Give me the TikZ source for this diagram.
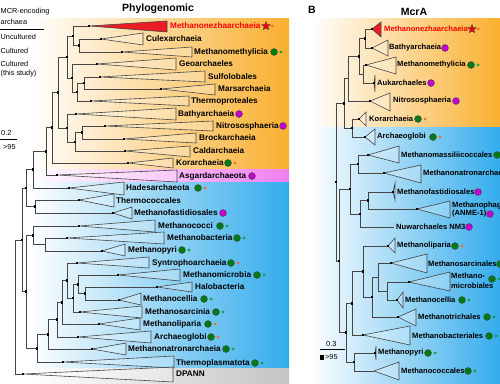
\documentclass[tikz,border=0pt]{standalone}
\usepackage{fontspec}
\setmainfont{Liberation Sans}
\usepackage{tikz}
\usetikzlibrary{shapes.geometric}
\usetikzlibrary{positioning}
\definecolor{bgorange}{RGB}{250,176,48}
\definecolor{bgblue}{RGB}{52,172,236}
\definecolor{bgpink}{RGB}{240,128,240}
\definecolor{bggray}{RGB}{196,196,196}
\definecolor{linegray}{RGB}{70,70,70}
\definecolor{cladered}{RGB}{236,28,36}
\definecolor{cgreen}{RGB}{0,122,20}
\definecolor{cmagenta}{RGB}{196,0,210}
\definecolor{agreen}{RGB}{20,160,60}
\definecolor{aorange}{RGB}{240,110,40}
\tikzstyle{br} = [draw=linegray, line width=0.6pt]
\tikzstyle{wedge} = [draw=linegray, line width=0.6pt, fill=white, fill opacity=0.25]
\tikzstyle{clade} = [anchor=west, inner sep=0pt, font=\fontsize{8.2}{9}\selectfont\bfseries]
\tikzstyle{cladeb} = [anchor=west, inner sep=0pt, font=\fontsize{7.6}{9}\selectfont\bfseries]
\tikzstyle{plain} = [anchor=west, inner sep=0pt, font=\fontsize{7.3}{9}\selectfont]
\tikzstyle{title} = [inner sep=0pt, font=\fontsize{10.5}{12}\selectfont\bfseries]
\tikzstyle{cult} = [circle, fill=cgreen, draw=black!70, line width=0.4pt, minimum size=7pt, inner sep=0pt]
\tikzstyle{uncult} = [circle, fill=cmagenta, draw=black!70, line width=0.4pt, minimum size=7pt, inner sep=0pt]
\tikzstyle{newstar} = [star, star points=5, star point ratio=2.3, fill=red, draw=black!75, line width=0.4pt, minimum size=9pt, inner sep=0pt]
\tikzstyle{tinyg} = [star, star points=5, star point ratio=2.2, fill=agreen, minimum size=3.6pt, inner sep=0pt]
\tikzstyle{tinyo} = [star, star points=5, star point ratio=2.2, fill=aorange, minimum size=3.6pt, inner sep=0pt]

\begin{document}
\begin{tikzpicture}[x=1pt, y=-1pt]
\useasboundingbox (0,0) rectangle (500,383);
\clip (0,0) rectangle (500,383);

\shade[left color=white, right color=bgorange] (30,18) rectangle (289,169);
\shade[left color=white, right color=bgpink] (30,169) rectangle (289,182);
\shade[left color=white, right color=bgblue] (30,182) rectangle (289,368);
\shade[left color=white, right color=bggray] (30,368) rectangle (289,383);
\shade[left color=white, right color=bgorange] (310,18) rectangle (500,127);
\shade[left color=white, right color=bgblue] (310,127) rectangle (500,383);

\node[title] (titleA) at (158,9) {Phylogenomic};
\node[title] (titleB) at (414,12) {McrA};
\node[title] (panelB) at (312,10) {B};

\node[plain] (lg1) at (0.5,12) {MCR-encoding};
\node[plain] (lg2) at (0.5,22) {archaea};
\draw[line width=0.5pt] (0,29) -- (44,29);
\node[plain] (lg3) at (0.5,37) {Uncultured};
\node[plain] (lg4) at (0.5,51) {Cultured};
\node[plain] (lg5) at (0.5,64) {Cultured};
\node[plain] (lg6) at (0.5,74) {(this study)};
\node[plain] (sc1) at (1,133) {0.2};
\draw[line width=0.5pt] (0,139) -- (17,139);
\node[plain] (sc2) at (3,147) {>95};
\node[plain] (sc3) at (326,344) {0.3};
\draw[line width=0.5pt] (320,349) -- (345,349);
\fill (319.5,354.5) rectangle (324,359.5);
\node[plain] (sc4) at (325,357) {>95};

% phylogenomic tree
\coordinate (a1) at (89,26);
\coordinate (a2) at (101,39);
\coordinate (a3) at (122,52);
\coordinate (n2) at (79,45.5);
\coordinate (n1) at (73,35.8);
\coordinate (a4) at (97,64);
\coordinate (a5) at (100,77);
\coordinate (a6) at (161,89);
\coordinate (a7) at (91,101);
\coordinate (n6) at (84,83);
\coordinate (n7) at (77,92);
\coordinate (n5) at (72,78);
\coordinate (n3) at (67,56.9);
\coordinate (a8) at (76,114);
\coordinate (a9) at (105,126);
\coordinate (a10) at (124,139);
\coordinate (a11) at (125,151);
\coordinate (n10) at (82,132.5);
\coordinate (n11) at (75,141.8);
\coordinate (n9) at (67,127.9);
\coordinate (p1) at (58,92.4);
\coordinate (a12) at (128,163);
\coordinate (n12) at (52,127.7);
\coordinate (a13) at (57,175);
\coordinate (n13) at (46,151.4);
\coordinate (a14) at (69,188);
\coordinate (n14) at (33,169.7);
\coordinate (a15) at (79,200);
\coordinate (a16) at (113,213);
\coordinate (n15) at (35,206.5);
\coordinate (n16) at (26,188.1);
\coordinate (a17) at (79,226);
\coordinate (a18) at (67,238);
\coordinate (a19) at (102,251);
\coordinate (n19) at (45,244.5);
\coordinate (n17) at (33,235.3);
\coordinate (a20) at (77,263);
\coordinate (a21) at (118,275);
\coordinate (a22) at (157,287);
\coordinate (a23) at (119,300);
\coordinate (a24) at (80,312);
\coordinate (a25) at (99,324);
\coordinate (a26) at (78,337);
\coordinate (a27) at (92,349);
\coordinate (a28) at (63,362);
\coordinate (n22) at (85,293.5);
\coordinate (n21) at (78,284.3);
\coordinate (n24) at (73,298.1);
\coordinate (n20) at (67,280.6);
\coordinate (n25) at (62,302.3);
\coordinate (n26) at (57,319.6);
\coordinate (n27) at (48,334.3);
\coordinate (n28) at (37,348.2);
\coordinate (n30) at (26,291.7);
\coordinate (n31) at (22,239.9);
\coordinate (a29) at (23,374);
\coordinate (rootA) at (15,307);

% mcrA tree
\coordinate (b1) at (372,29);
\coordinate (b2) at (372,48);
\coordinate (m1) at (365,38.5);
\coordinate (b3) at (366,65);
\coordinate (b4) at (374,83);
\coordinate (m2) at (363,74);
\coordinate (m3) at (359,56.3);
\coordinate (b5) at (370,101);
\coordinate (m4) at (348,78.6);
\coordinate (b6) at (359,119);
\coordinate (b7) at (365,137);
\coordinate (m5) at (352,128);
\coordinate (m6) at (344,103.3);
\coordinate (b8) at (368,155);
\coordinate (b9) at (384,173);
\coordinate (m7) at (358,164);
\coordinate (b10) at (393,192);
\coordinate (b11) at (417,209);
\coordinate (m8) at (368,200.5);
\coordinate (b12) at (394,227);
\coordinate (m9) at (360,213.8);
\coordinate (m10) at (350,188.9);
\coordinate (b13) at (388,246);
\coordinate (b14) at (391,263);
\coordinate (b15) at (409,282);
\coordinate (b16) at (397,300);
\coordinate (m11) at (387,291);
\coordinate (m12) at (378,277);
\coordinate (b17) at (398,317);
\coordinate (m13) at (372,297);
\coordinate (m14) at (363,271.5);
\coordinate (b18) at (363,335);
\coordinate (m15) at (352,303.3);
\coordinate (b19) at (375,353);
\coordinate (b20) at (374,371);
\coordinate (m16) at (354,362);
\coordinate (m17) at (346,332.6);
\coordinate (m18) at (339,260.8);
\coordinate (rootB) at (336,182);

\draw[wedge, fill=cladered, fill opacity=1] (a1) -- (167,21) -- (167,32) -- cycle;
\draw[wedge, fill=cladered, fill opacity=1] (b1) -- (381,22) -- (381,37) -- cycle;
\foreach \a/\xr/\ya/\yb in {a2/143/33/45, a3/192/47/57, a4/176/58/70, a5/205/71/82,
  a6/215/84/95, a7/189/96/106, a8/176/108/120, a9/213/121/131, a10/196/133/143,
  a11/190/146/157, a12/173/158/168, a13/177/170/182, a14/124/182/195, a15/114/194/207,
  a16/132/207/219, a17/155/220/232, a18/164/232/244, a19/125/244/256, a20/149/257/268,
  a21/180/269/281, a22/192/282/292, a23/141/293/305, a24/142/306/318, a25/140/318/330,
  a26/151/331/343, a27/126/343/355, a28/174/356/368, a29/173/367/382,
  b2/388/40/56, b3/396/57/74, b4/375/75/92, b5/390/93/111, b6/366/112/126,
  b7/375/129/145, b8/399/146/163, b9/421/165/183, b10/395/183/200, b11/450/201/218,
  b13/395/238/253, b14/427/254/273, b15/450/272/291, b16/403/292/308, b17/416/309/326,
  b18/410/326/345, b19/376/346/360, b20/399/362/380}
  \draw[wedge] (\a) -- (\xr,\ya) -- (\xr,\yb) -- cycle;

\foreach \p/\c in {n1/a1, n1/n2, n2/a2, n2/a3, n3/n1, n3/n5, n5/a4, n5/n7, n7/n6, n7/a7,
  n6/a5, n6/a6, p1/n3, p1/n9, n9/a8, n9/n11, n11/n10, n11/a11, n10/a9, n10/a10,
  n12/p1, n12/a12, n13/n12, n13/a13, n14/n13, n14/a14, n16/n14, n16/n15, n15/a15,
  n15/a16, n31/n16, n31/n30, n30/n17, n30/n28, n17/a17, n17/n19, n19/a18, n19/a19,
  n28/n27, n28/a28, n27/n26, n27/a27, n26/n25, n26/a26, n25/n20, n25/a25, n20/a20,
  n20/n24, n24/n21, n24/a24, n21/a21, n21/n22, n22/a22, n22/a23, rootA/n31, rootA/a29,
  m1/b1, m1/b2, m3/m1, m3/m2, m2/b3, m2/b4, m4/m3, m4/b5, m6/m4, m6/m5, m5/b6, m5/b7,
  rootB/m6, rootB/m18, m18/m10, m18/m17, m10/m7, m10/m9, m7/b8, m7/b9, m9/m8, m9/b12,
  m8/b10, m8/b11, m17/m15, m17/m16, m15/m14, m15/b18, m14/b13, m14/m13, m13/m12,
  m13/b17, m12/b14, m12/m11, m11/b15, m11/b16, m16/b19, m16/b20}
  \draw[br] (\p) |- (\c);

\foreach \n in {a1,a2,a3,a4,a5,a6,a7,a8,a9,a10,a11,a12,a13,a14,a15,a16,a17,a18,a19,
  a20,a21,a22,a23,a24,a25,a26,a27,a28,a29,n1,n2,n3,n5,n6,n7,p1,n9,n10,n11,n12,n13,
  n14,n15,n16,n17,n20,n21,n22,n24,n25,n26,n27,n28,n30,n31,
  b1,b2,b3,b4,b5,b6,b7,b8,b9,b10,b11,b13,b14,b15,b16,b17,b18,b19,
  m1,m3,m5,m6,m7,m8,m9,m10,m13,m14,m15,m16,m17,m18,rootB}
  \fill (\n) ++(-1.3,-1.3) rectangle ++(2.6,2.6);

\node[clade, text=red] (la1) at (170,26) {Methanonezhaarchaeia};
\node[clade] (la2) at (146,39) {Culexarchaeia};
\node[clade] (la3) at (194,52) {Methanomethylicia};
\node[clade] (la4) at (179,64) {Geoarchaeles};
\node[clade] (la5) at (208,77) {Sulfolobales};
\node[clade] (la6) at (218,89) {Marsarchaeia};
\node[clade] (la7) at (191,101) {Thermoproteales};
\node[clade] (la8) at (178,114) {Bathyarchaeia};
\node[clade] (la9) at (216,126) {Nitrososphaeria};
\node[clade] (la10) at (199,138) {Brockarchaeia};
\node[clade] (la11) at (193,151) {Caldarchaeia};
\node[clade] (la12) at (176,163) {Korarchaeia};
\node[clade] (la13) at (179,176) {Asgardarchaeota};
\node[clade] (la14) at (126,188) {Hadesarchaeota};
\node[clade] (la15) at (116,201) {Thermococcales};
\node[clade] (la16) at (134,213) {Methanofastidiosales};
\node[clade] (la17) at (158,226) {Methanococci};
\node[clade] (la18) at (167,238) {Methanobacteria};
\node[clade] (la19) at (128,250) {Methanopyri};
\node[clade] (la20) at (152,263) {Syntrophoarchaeia};
\node[clade] (la21) at (183,275) {Methanomicrobia};
\node[clade] (la22) at (195,287) {Halobacteria};
\node[clade] (la23) at (143,299) {Methanocellia};
\node[clade] (la24) at (145,312) {Methanosarcinia};
\node[clade] (la25) at (143,324) {Methanoliparia};
\node[clade] (la26) at (154,337) {Archaeoglobi};
\node[clade] (la27) at (128,349) {Methanonatronarchaeia};
\node[clade] (la28) at (176,363) {Thermoplasmatota};
\node[clade] (la29) at (176,374) {DPANN};

\node[cladeb, text=red] (lb1) at (384,29) {Methanonezhaarchaeia};
\node[cladeb] (lb2) at (389,48) {Bathyarchaeia};
\node[cladeb] (lb3) at (397,65) {Methanomethylicia};
\node[cladeb] (lb4) at (377,83) {Aukarchaeles};
\node[cladeb] (lb5) at (393,101) {Nitrososphaeria};
\node[cladeb] (lb6) at (369,119) {Korarchaeia};
\node[cladeb] (lb7) at (377,137) {Archaeoglobi};
\node[cladeb] (lb8) at (401,155) {Methanomassiliicoccales};
\node[cladeb] (lb9) at (423,173) {Methanonatronarchaeia};
\node[cladeb] (lb10) at (397,192) {Methanofastidiosales};
\node[cladeb] (lb11) at (452,206) {Methanophagales};
\node[cladeb] (lb11b) at (452,214) {(ANME-1)};
\node[cladeb] (lb12) at (396,227) {Nuwarchaeles NM3};
\node[cladeb] (lb13) at (397,246) {Methanoliparia};
\node[cladeb] (lb14) at (428,264) {Methanosarcinales};
\node[cladeb] (lb15) at (451,276) {Methano-};
\node[cladeb] (lb15b) at (451,286) {microbiales};
\node[cladeb] (lb16) at (405,300) {Methanocellia};
\node[cladeb] (lb17) at (418,317) {Methanotrichales};
\node[cladeb] (lb18) at (412,336) {Methanobacteriales};
\node[cladeb] (lb19) at (378,353) {Methanopyri};
\node[cladeb] (lb20) at (401,371) {Methanococcales};

\node[newstar] (sa1) at (266,26) {};
\node[newstar] (sb1) at (472,29) {};
\foreach \n/\x/\y in {ca3/274/52, ca12/228/163, ca14/198/188, ca17/220/226, ca18/237/238,
  ca19/182/250, ca20/231/263, ca21/257/275, ca23/204/299, ca24/216/312, ca25/208/324,
  ca26/211/337, ca27/226/349, ca28/255/363, cb3/471/65, cb6/418/119, cb7/433/137,
  cb8/497/155, cb13/455/246, cb14/500/264, cb15/492/279, cb16/462/300, cb17/487/317,
  cb18/489/336, cb19/428/353, cb20/468/371}
  \node[cult] (\n) at (\x,\y) {};
\foreach \n/\x/\y in {ua8/239/114, ua9/283/126, ua13/252/176, ua16/223/213, ub2/445/48,
  ub4/431/83, ub5/456/101, ub10/478/192, ub11/490/214, ub12/469/227}
  \node[uncult] (\n) at (\x,\y) {};
\foreach \n/\s in {sa1/tinyo, ca3/tinyg, ca12/tinyo, ca14/tinyo, ca17/tinyg, ca18/tinyg,
  ca19/tinyg, ca20/tinyo, ca21/tinyg, ca23/tinyg, ca24/tinyg, ca25/tinyo, ca26/tinyo,
  ca27/tinyg, ca28/tinyg, sb1/tinyo, cb3/tinyg, cb6/tinyo, cb7/tinyo, cb13/tinyo,
  cb15/tinyg, cb16/tinyg, cb17/tinyg, cb18/tinyg, cb19/tinyg, cb20/tinyg}
  \node[\s, right=2pt of \n] (m\n) {};

\end{tikzpicture}
\end{document}
